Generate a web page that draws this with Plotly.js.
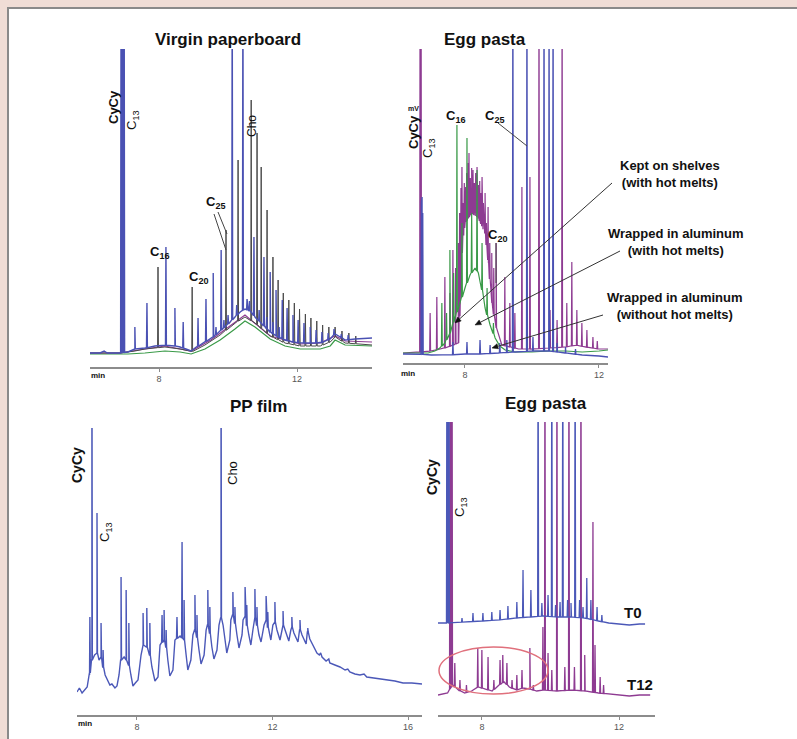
<!DOCTYPE html>
<html>
<head>
<meta charset="utf-8">
<script src="https://cdn.plot.ly/plotly-3.0.1.min.js"></script>
<style>html,body{margin:0;padding:0;background:#f0ddd6;}#chart{width:797px;height:739px;}</style>
</head>
<body>
<div id="chart"></div>
<script>
// ---------------- DATA (time in min, signal in arbitrary units) ----------------
// Panel 1: Virgin paperboard
const vpBlueBaseT = [6.00,6.29,6.41,6.50,6.87,7.10,7.30,7.59,7.88,8.17,8.46,8.61,8.78,8.93,9.04,9.19,9.33,9.57,9.77,9.91,10.06,10.20,10.35,10.49,10.58,10.67,10.78,10.93,11.07,11.22,11.39,11.65,11.88,12.09,12.38,12.67,12.96,13.10,13.25,13.39,13.68,13.97,14.17];
const vpBlueBaseY = [14,14,16,14,14,15,18,19,21,22,21,20,18,16,19,22,25,30,36,40,45,50,55,58,57,55,50,45,40,35,31,27,25,24,24,24,28,33,30,27,28,29,29];
const vpBluePeakT = [6.90,6.93,6.96,6.99,7.30,7.65,8.20,8.46,8.70,9.13,9.36,9.57,9.65,9.80,9.88,10.00,10.12,10.25,10.43,10.55,10.62,10.75,10.90,11.04,11.12,11.22,11.30,11.39,11.48,11.57,11.71,11.88,12.03,12.20,12.38,12.55,12.72,12.90,13.07,13.28,13.48];
const vpBluePeakH = [400,400,400,400,40,64,120,59,45,49,68,94,40,117,47,52,400,62,400,68,66,130,57,110,50,95,45,77,40,67,59,52,47,44,40,37,35,34,38,33,32];
const vpBlackBaseT = [6.00,6.87,7.30,7.59,8.17,8.61,8.93,9.33,9.77,10.20,10.49,10.78,11.22,11.65,12.09,12.67,12.96,13.10,13.39,14.17];
const vpBlackBaseY = [14,14,16,18,20,18,15,22,32,44,50,44,31,24,21,21,25,30,24,22];
const vpBlackPeakT = [7.97,8.96,9.94,10.29,10.67,10.84,10.96,11.13,11.30,11.45,11.60,11.76,11.92,12.07,12.24,12.40,12.57,12.74,12.92,13.10,13.30,13.50,13.70];
const vpBlackPeakH = [100,80,137,207,267,234,200,157,110,87,74,67,64,58,53,49,46,42,40,40,36,34,31];
const vpGreenBaseT = [6.00,6.87,7.10,7.59,8.17,8.61,8.93,9.33,9.77,10.20,10.49,10.78,11.22,11.65,12.09,12.67,12.96,13.10,13.39,14.17];
const vpGreenBaseY = [13,13,13,14,16,15,13,18,27,38,46,40,28,21,18,18,21,27,22,21];
const vpPurpleBaseT = [6.00,6.87,7.59,8.17,8.93,9.50,10.49,11.22,12.09,12.67,13.10,13.39,14.17];
const vpPurpleBaseY = [14,14,18,21,16,27,52,31,23,24,31,26,25];

// Panel 2: Egg pasta (storage conditions)
const epBlueBaseT = [6.15,6.60,7.00,7.50,8.00,8.50,9.00,9.50,10.00,10.50,11.00,11.50,12.00,12.27];
const epBlueBaseY = [9,9,8,8,9,9,10,11,12,12,10,8,7,6];
const epBluePeakT = [6.70,6.72,6.74,7.64,8.06,8.45,8.75,9.04,9.25,9.43,9.85,10.03,10.36,10.51,10.63,10.75,11.00,11.30];
const epBluePeakH = [160,166,150,21,21,23,18,20,23,400,400,26,400,400,400,20,16,14];
const epGreenBaseT = [6.15,6.90,7.10,7.25,7.40,7.55,7.70,7.85,8.00,8.15,8.30,8.40,8.50,8.60,8.75,8.90,9.04,9.20,9.50,10.00,10.50,11.00,11.50,12.00,12.27];
const epGreenBaseY = [10,10,12,15,20,30,45,60,75,88,95,90,75,55,38,25,17,13,11,11,12,12,11,12,13];
const epGreenPeakT = [7.31,7.45,7.55,7.66,7.76,7.91,8.06,8.20,8.36,8.51,8.66,8.85];
const epGreenPeakH = [60,50,113,90,238,140,225,150,193,120,75,40];
const epPurpleBaseT = [6.15,6.60,7.00,7.50,7.80,7.86,7.92,8.00,8.20,8.40,8.60,8.70,8.80,8.93,9.10,9.60,10.00,10.50,11.00,11.30,11.60,12.00,12.27];
const epPurpleBaseY = [10,11,12,16,20,60,120,140,150,145,130,100,60,35,18,14,14,15,16,18,16,14,14];
const epPurplePeakT = [6.66,6.69,6.96,7.16,7.40,7.55,7.64,7.72,7.80,7.84,7.88,7.91,7.95,7.98,8.02,8.05,8.09,8.12,8.16,8.20,8.24,8.28,8.32,8.36,8.40,8.44,8.48,8.51,8.55,8.60,8.64,8.69,8.74,8.80,8.86,8.93,9.19,9.34,9.49,9.70,9.94,10.21,10.54,10.75,10.90,11.04,11.19,11.34,11.49,11.64,11.82,11.95];
const epPurplePeakH = [400,400,50,66,86,70,113,95,120,150,175,196,160,180,176,190,200,210,185,195,193,180,190,196,178,182,170,186,160,170,140,156,120,110,95,120,86,60,50,176,186,400,53,43,400,60,101,53,40,33,26,22];

// Panel 3: PP film
const ppBaseT = [6.23,6.30,6.38,6.45,6.53,6.60,6.67,6.75,6.82,6.88,6.94,7.00,7.06,7.12,7.20,7.26,7.35,7.41,7.47,7.53,7.62,7.68,7.76,7.82,7.88,7.95,8.03,8.12,8.18,8.29,8.38,8.44,8.53,8.62,8.68,8.80,8.86,8.91,8.97,9.06,9.12,9.27,9.39,9.45,9.50,9.59,9.65,9.71,9.77,9.83,9.89,9.98,10.04,10.09,10.15,10.21,10.27,10.36,10.42,10.48,10.54,10.60,10.65,10.74,10.77,10.83,10.89,10.95,11.01,11.10,11.13,11.19,11.24,11.30,11.36,11.42,11.48,11.54,11.60,11.66,11.75,11.81,11.86,11.92,11.95,12.01,12.07,12.13,12.19,12.22,12.28,12.31,12.37,12.42,12.48,12.54,12.57,12.63,12.69,12.75,12.81,12.87,12.93,12.99,13.04,13.10,13.16,13.31,13.38,13.42,13.46,13.58,13.66,13.69,13.84,13.99,14.14,14.22,14.28,14.43,14.58,14.70,14.78,15.02,15.37,15.61,15.85,16.11,16.41];
const ppBaseY = [23,27,22,25,28,40,55,60,62,55,58,48,40,35,30,31,27,29,40,55,58,55,50,40,29,32,35,60,70,68,60,48,34,38,70,75,68,55,39,45,75,79,75,60,45,55,80,85,78,65,51,60,85,90,82,68,56,65,90,97,90,75,62,75,95,100,92,80,67,80,95,98,90,80,70,85,98,90,80,73,90,95,88,80,75,90,93,85,78,75,85,90,85,80,74,85,88,82,77,73,85,80,75,71,83,76,72,62,60,62,58,54,56,52,50,48,45,46,43,41,40,41,38,37,35,34,32,32,31];
const ppPeakT = [6.61,6.67,6.82,6.94,7.00,7.53,7.68,7.76,8.18,8.29,8.38,8.74,8.80,8.86,9.18,9.33,9.39,9.71,9.77,10.09,10.15,10.48,10.83,10.89,11.19,11.24,11.48,11.54,11.81,11.86,12.07,12.31,12.57,12.81,13.04];
const ppPeakH = [98,400,202,92,65,138,125,92,102,107,92,100,105,85,98,173,115,120,100,125,108,400,123,108,128,110,126,108,119,103,113,104,98,95,87];

// Panel 4: Egg pasta T0 / T12
const t0BaseT = [6.72,7.00,7.50,8.00,8.50,9.00,9.40,9.80,10.20,10.60,11.00,11.40,11.70,12.00,12.30,12.60,12.76];
const t0BaseY = [92,92,93,94,95,97,98,99,98,98,97,94,92,91,90,91,91];
const t0PeakT = [6.98,7.01,7.04,7.42,7.74,8.03,8.29,8.53,8.76,9.02,9.20,9.43,9.64,9.75,9.93,10.04,10.15,10.28,10.36,10.50,10.60,10.72,10.85,10.95,11.06,11.18,11.36,11.50];
const t0PeakH = [400,400,400,97,102,102,103,105,109,113,145,125,400,112,120,400,110,113,400,115,112,400,115,108,137,115,108,100];
const t12BaseT = [6.72,7.00,7.15,7.30,7.50,7.70,7.90,8.10,8.30,8.50,8.65,8.80,9.00,9.20,9.40,9.60,9.80,10.20,10.60,11.00,11.40,11.70,12.00,12.30,12.60,12.91];
const t12BaseY = [20,22,30,25,22,24,28,26,24,30,33,28,25,27,26,24,25,24,25,24,22,21,20,19,20,20];
const t12PeakT = [7.07,7.10,7.13,7.21,7.36,7.55,7.88,8.00,8.18,8.35,8.53,8.61,8.73,8.88,9.02,9.17,9.40,9.50,9.78,9.84,9.93,10.04,10.19,10.42,10.54,10.70,10.89,11.00,11.24,11.30,11.45,11.55];
const t12PeakH = [400,400,400,52,35,30,67,65,58,35,55,60,52,35,40,45,67,30,88,400,62,45,400,48,400,48,400,60,193,70,38,30];

// Tick labels
const ticks1 = [8,12], ticks2 = [8,12], ticks3 = [8,12,16], ticks4 = [8,12];

// ---------------- BUILD ----------------
const W = 797, H = 739;
const PX = x => x / W, PY = y => 1 - y / H;
function interp(T, Y, t) {
  if (t <= T[0]) return Y[0];
  for (let i = 1; i < T.length; i++) {
    if (t <= T[i]) { const f = (t - T[i-1]) / (T[i] - T[i-1]); return Y[i-1] + f * (Y[i] - Y[i-1]); }
  }
  return Y[Y.length - 1];
}
function chrom(bT, bY, pT, pH, color, width, xa, ya) {
  const pts = bT.map((t, i) => [t, bY[i]]);
  const w = 0.013;
  (pT || []).forEach((t, i) => {
    const f = interp(bT, bY, t);
    pts.push([t - w, f], [t, pH[i]], [t + w, f]);
  });
  pts.sort((a, b) => a[0] - b[0]);
  return { type: 'scatter', mode: 'lines', x: pts.map(p => p[0]), y: pts.map(p => p[1]),
    line: { color: color, width: width, shape: 'linear' }, xaxis: xa, yaxis: ya, hoverinfo: 'skip' };
}
const BLUE = '#4a51b3', BLACK = '#4a4a4a', GREEN = '#3a9a48', PURPLE = '#8e3b92', BLUE3 = '#4b58b8';
const traces = [
  chrom(vpGreenBaseT, vpGreenBaseY, null, null, GREEN, 1.2, 'x', 'y'),
  chrom(vpPurpleBaseT, vpPurpleBaseY, null, null, PURPLE, 1.2, 'x', 'y'),
  chrom(vpBlackBaseT, vpBlackBaseY, vpBlackPeakT, vpBlackPeakH, BLACK, 1.0, 'x', 'y'),
  chrom(vpBlueBaseT, vpBlueBaseY, vpBluePeakT, vpBluePeakH, BLUE, 1.4, 'x', 'y'),
  chrom(epPurpleBaseT, epPurpleBaseY, epPurplePeakT, epPurplePeakH, PURPLE, 1.2, 'x2', 'y2'),
  chrom(epGreenBaseT, epGreenBaseY, epGreenPeakT, epGreenPeakH, GREEN, 1.2, 'x2', 'y2'),
  chrom(epBlueBaseT, epBlueBaseY, epBluePeakT, epBluePeakH, BLUE, 1.3, 'x2', 'y2'),
  chrom(ppBaseT, ppBaseY, ppPeakT, ppPeakH, BLUE3, 1.4, 'x3', 'y3'),
  chrom(t12BaseT, t12BaseY, t12PeakT, t12PeakH, PURPLE, 1.3, 'x4', 'y4'),
  chrom(t0BaseT, t0BaseY, t0PeakT, t0PeakH, BLUE3, 1.3, 'x4', 'y4')
];

const FONT = 'Liberation Sans, Arial, sans-serif';
function xa(dom, range, tv, anchor) {
  return { domain: dom, range: range, anchor: anchor, showline: true, linecolor: '#8c8c8c', linewidth: 1.5,
    ticks: 'outside', ticklen: 3, tickcolor: '#8c8c8c', tickwidth: 1, tickvals: tv, ticktext: tv.map(String),
    tickfont: { family: FONT, size: 9, color: '#555' }, showgrid: false, zeroline: false, fixedrange: true };
}
function ya(dom, range, anchor) {
  return { domain: dom, range: range, anchor: anchor, visible: false, showgrid: false, zeroline: false, fixedrange: true };
}
function txt(s, x, y, size, bold, rot, color) {
  return { text: bold ? '<b>' + s + '</b>' : s, x: PX(x), y: PY(y), xref: 'paper', yref: 'paper',
    xanchor: 'center', yanchor: 'middle', showarrow: false, textangle: rot || 0,
    font: { family: FONT, size: size, color: color || '#111' } };
}
function seg(x0, y0, x1, y1, color) {
  return { type: 'line', xref: 'paper', yref: 'paper', x0: PX(x0), y0: PY(y0), x1: PX(x1), y1: PY(y1),
    line: { color: color || '#444', width: 1 } };
}
// pointer line ending in a small filled arrowhead
function pointer(x0, y0, x1, y1) {
  const dx = x1 - x0, dy = y1 - y0, L = Math.hypot(dx, dy), ux = dx / L, uy = dy / L;
  const len = 6, half = 2.6;
  const bx = x1 - ux * len, by = y1 - uy * len;
  const p1 = [bx - uy * half, by + ux * half], p2 = [bx + uy * half, by - ux * half];
  const path = 'M' + PX(x1) + ',' + PY(y1) + ' L' + PX(p1[0]) + ',' + PY(p1[1]) + ' L' + PX(p2[0]) + ',' + PY(p2[1]) + ' Z';
  return [
    { type: 'line', xref: 'paper', yref: 'paper', x0: PX(x0), y0: PY(y0), x1: PX(bx), y1: PY(by), line: { color: '#333', width: 1 } },
    { type: 'path', xref: 'paper', yref: 'paper', path: path, fillcolor: '#111', line: { color: '#111', width: 0.5 } }
  ];
}

const annotations = [
  txt('Virgin paperboard', 228, 40, 17, true),
  txt('Egg pasta', 485, 40, 17, true),
  txt('PP film', 258, 407, 17, true),
  txt('Egg pasta', 546, 403, 17, true),
  txt('min', 98, 375, 8, true), txt('min', 408, 373, 8, true), txt('min', 85, 723, 8, true),
  // panel 1
  txt('CyCy', 114, 107, 13, true, -90),
  txt('C<sub>13</sub>', 132, 120, 13, false, -90),
  txt('C<sub>16</sub>', 160, 253, 13, true),
  txt('C<sub>20</sub>', 199, 277, 13, true),
  txt('C<sub>25</sub>', 216, 202, 13, true),
  txt('Cho', 252, 126, 12, false, -90),
  // panel 2
  txt('mV', 413, 108, 7, true),
  txt('CyCy', 413, 132, 13, true, -90),
  txt('C<sub>13</sub>', 428, 148, 13, false, -90),
  txt('C<sub>16</sub>', 456, 117, 13, true),
  txt('C<sub>25</sub>', 495, 117, 13, true),
  txt('C<sub>20</sub>', 498, 235, 13, true),
  txt('Kept on shelves<br>(with hot melts)', 670, 174, 13, true),
  txt('Wrapped in aluminum<br>(with hot melts)', 676, 242, 13, true),
  txt('Wrapped in aluminum<br>(without hot melts)', 675, 306, 13, true),
  // panel 3
  txt('CyCy', 77, 465, 14, true, -90),
  txt('C<sub>13</sub>', 105, 532, 13, false, -90),
  txt('Cho', 233, 473, 13, false, -90),
  // panel 4
  txt('CyCy', 432, 477, 14, true, -90),
  txt('C<sub>13</sub>', 460, 507, 13, false, -90),
  txt('T0', 633, 612, 15, true),
  txt('T12', 640, 684, 15, true)
];

const shapes = [
  { type: 'rect', xref: 'paper', yref: 'paper', x0: PX(8), y0: -0.02, x1: 1.02, y1: PY(8),
    fillcolor: '#ffffff', line: { color: '#8a8a8a', width: 2 }, layer: 'below' },
  seg(214, 214, 226, 250), seg(218, 212, 227, 234),
  seg(498, 123, 527, 146), seg(496, 243, 496, 283),
  { type: 'circle', xref: 'paper', yref: 'paper', x0: PX(439), x1: PX(548), y0: PY(694), y1: PY(647),
    line: { color: '#e0707c', width: 1.5 } }
].concat(pointer(612, 183, 455, 323), pointer(620, 251, 475, 325), pointer(603, 315, 492, 348));

const layout = {
  width: W, height: H, margin: { l: 0, r: 0, t: 0, b: 0 }, showlegend: false,
  paper_bgcolor: '#f0ddd6', plot_bgcolor: 'rgba(0,0,0,0)',
  font: { family: FONT },
  xaxis: xa([PX(90), PX(372)], [6.00, 14.17], ticks1, 'y'),
  yaxis: ya([PY(367), PY(49)], [0, 318], 'x'),
  xaxis2: xa([PX(403), PX(608)], [6.15, 12.27], ticks2, 'y2'),
  yaxis2: ya([PY(363), PY(49)], [0, 314], 'x2'),
  xaxis3: xa([PX(77), PX(422)], [6.23, 16.41], ticks3, 'y3'),
  yaxis3: ya([PY(715), PY(428)], [0, 287], 'x3'),
  xaxis4: xa([PX(438), PX(655)], [6.72, 13.05], ticks4, 'y4'),
  yaxis4: ya([PY(715), PY(422)], [0, 293], 'x4'),
  annotations: annotations, shapes: shapes
};
Plotly.newPlot('chart', traces, layout, { staticPlot: true, displayModeBar: false });
</script>
</body>
</html>
